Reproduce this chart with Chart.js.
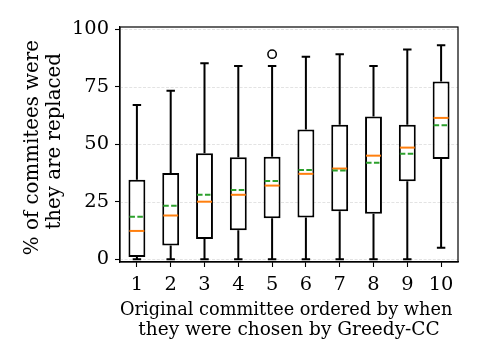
<!DOCTYPE html>
<html>
<head>
<meta charset="utf-8">
<script src="https://cdn.jsdelivr.net/npm/chart.js@4/dist/chart.umd.min.js"></script>
<style>
  html, body { margin: 0; padding: 0; background: #ffffff; }
  #wrap { width: 480px; height: 360px; position: relative; }
</style>
</head>
<body>
<div id="wrap"><canvas id="c" width="480" height="360"></canvas></div>
<script>
// ---- Data ----
const categories = ['1', '2', '3', '4', '5', '6', '7', '8', '9', '10'];
const whiskerLow  = [0, 0, 0, 0, 0, 0, 0, 0, 0, 5];
const q1Values    = [1, 6, 8.8, 12.6, 17.8, 18.1, 20.9, 19.8, 33.9, 43.6];
const medians     = [12.3, 19, 25, 28, 32, 37.1, 39.4, 45, 48.5, 61.4];
const q3Values    = [34.5, 37.5, 46, 44.3, 44.5, 56.4, 58.4, 62, 58.4, 77.2];
const whiskerHigh = [67, 73.2, 85.2, 84, 84, 88, 89.1, 84, 91.1, 93];
const means       = [18.5, 23.2, 28, 30.1, 34, 38.8, 38.5, 41.9, 45.8, 58.2];
const outliers    = [[], [], [], [], [89.1], [], [], [], [], []];
const yTicks      = [0, 25, 50, 75, 100];
const yTitle = ['% of commitees were ', ' they are replaced'];
const xTitle = ['Original committee ordered by when ', 'they were chosen by Greedy-CC'];

const FONT = "'DejaVu Serif', serif";

const boxExtras = {
  id: 'boxExtras',
  beforeDatasetsDraw(chart) {
    const { ctx, chartArea: a, scales: { y } } = chart;
    ctx.save();
    ctx.strokeStyle = '#dcdcdc';
    ctx.lineWidth = 0.8;
    ctx.setLineDash([3, 1.6]);
    yTicks.forEach(v => {
      const py = Math.round(y.getPixelForValue(v)) + 0.5;
      ctx.beginPath();
      ctx.moveTo(a.left, py);
      ctx.lineTo(a.right, py);
      ctx.stroke();
    });
    ctx.restore();
  },
  afterDatasetsDraw(chart) {
    const { ctx, scales: { y } } = chart;
    const meta = chart.getDatasetMeta(0);
    ctx.save();
    meta.data.forEach((bar, i) => {
      const cx = bar.x;
      const w = bar.width;
      const capHalf = w / 4;
      const yLow = y.getPixelForValue(whiskerLow[i]);
      const yQ1 = y.getPixelForValue(q1Values[i]);
      const yQ3 = y.getPixelForValue(q3Values[i]);
      const yHigh = y.getPixelForValue(whiskerHigh[i]);
      ctx.strokeStyle = '#000000';
      ctx.lineWidth = 2;
      ctx.setLineDash([]);
      ctx.beginPath();
      ctx.moveTo(cx, yQ3); ctx.lineTo(cx, yHigh);
      ctx.moveTo(cx - capHalf, yHigh); ctx.lineTo(cx + capHalf, yHigh);
      ctx.moveTo(cx, yQ1); ctx.lineTo(cx, yLow);
      ctx.moveTo(cx - capHalf, yLow); ctx.lineTo(cx + capHalf, yLow);
      ctx.stroke();
      // median
      const yMed = y.getPixelForValue(medians[i]);
      ctx.strokeStyle = '#ff7f0e';
      ctx.lineWidth = 2;
      ctx.beginPath();
      ctx.moveTo(cx - w / 2 + 1, yMed); ctx.lineTo(cx + w / 2 - 1, yMed);
      ctx.stroke();
      // mean
      const yMean = y.getPixelForValue(means[i]);
      ctx.strokeStyle = '#2ca02c';
      ctx.setLineDash([5.5, 2.4]);
      ctx.beginPath();
      ctx.moveTo(cx - w / 2 + 1, yMean); ctx.lineTo(cx + w / 2 - 1, yMean);
      ctx.stroke();
      ctx.setLineDash([]);
      // outliers
      ctx.strokeStyle = '#000000';
      ctx.lineWidth = 1.5;
      outliers[i].forEach(v => {
        ctx.beginPath();
        ctx.arc(cx, y.getPixelForValue(v), 4.2, 0, Math.PI * 2);
        ctx.stroke();
      });
    });
    ctx.restore();
  },
  afterDraw(chart) {
    const { ctx, chartArea: a } = chart;
    ctx.save();
    ctx.strokeStyle = '#000000';
    ctx.lineWidth = 1.2;
    ctx.strokeRect(a.left, a.top, a.right - a.left, a.bottom - a.top);
    ctx.restore();
  }
};

new Chart(document.getElementById('c'), {
  type: 'bar',
  data: {
    labels: categories,
    datasets: [{
      data: q1Values.map((v, i) => [v, q3Values[i]]),
      backgroundColor: '#ffffff',
      borderColor: '#000000',
      borderWidth: 2,
      borderSkipped: false,
      categoryPercentage: 1.0,
      barPercentage: 0.5
    }]
  },
  options: {
    responsive: false,
    animation: false,
    devicePixelRatio: 1,
    layout: { padding: { top: 27, right: 22, left: 0, bottom: 0 } },
    plugins: { legend: { display: false }, tooltip: { enabled: false } },
    scales: {
      x: {
        type: 'category',
        offset: true,
        grid: { display: true, drawOnChartArea: false, drawTicks: true, offset: false,
                tickLength: 5, tickColor: '#000000', tickWidth: 1.1 },
        border: { display: true, color: '#000000', width: 1.2 },
        ticks: { color: '#000000', font: { family: FONT, size: 19.4 }, padding: 6, maxRotation: 0, autoSkip: false },
        title: { display: true, text: xTitle, color: '#000000',
                 font: { family: FONT, size: 18.5, lineHeight: 1.08 },
                 padding: { top: 0, bottom: 19.5 } },
        afterFit(scale) { scale.height = 98; }
      },
      y: {
        min: -1.2,
        max: 100.9,
        afterBuildTicks(scale) { scale.ticks = yTicks.map(v => ({ value: v })); },
        grid: { display: true, drawOnChartArea: false, drawTicks: true,
                tickLength: 5, tickColor: '#000000', tickWidth: 1.1 },
        border: { display: true, color: '#000000', width: 1.2 },
        ticks: { color: '#000000', font: { family: FONT, size: 19.4 }, padding: 6 },
        title: { display: true, text: yTitle, color: '#000000',
                 font: { family: FONT, size: 19.8, lineHeight: 1.08 },
                 padding: { top: 22.5, bottom: 0 } },
        afterFit(scale) { scale.width = 120; }
      }
    }
  },
  plugins: [boxExtras]
});
</script>
</body>
</html>
